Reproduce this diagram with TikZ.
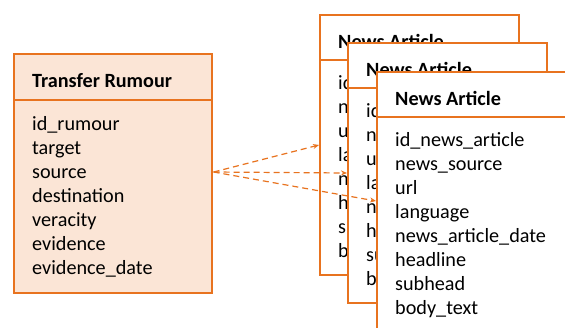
\documentclass[tikz,border=0pt]{standalone}
\usepackage{fontspec}
\setmainfont{Carlito}
\usetikzlibrary{calc,arrows.meta}
\definecolor{orng}{HTML}{E8731F}
\definecolor{pale}{HTML}{FBE5D6}
\tikzset{
  entity/.style={draw=orng, line width=1.6pt, rectangle, inner sep=0pt, anchor=north west},
  divider/.style={draw=orng, line width=1.6pt},
  etitle/.style={font=\fontsize{20.2}{24}\selectfont\bfseries, inner sep=0pt, anchor=base west},
  efield/.style={font=\fontsize{20.2}{24}\selectfont, inner sep=0pt, anchor=base west},
  link/.style={draw=orng, line width=1.2pt, dash pattern=on 6pt off 4pt, -{Stealth[length=6pt,width=5pt]}}
}
\begin{document}
\begin{tikzpicture}[x=1pt,y=-1pt]
\useasboundingbox (0,0) rectangle (565,327);
\clip (0,0) rectangle (565,327);
\fill[white] (0,0) rectangle (565,327);

% Transfer Rumour
\node[entity, fill=pale, minimum width=198pt, minimum height=239pt] (rum) at (13,53) {};
\draw[divider] ($(rum.north west)+(0,47)$) -- ($(rum.north east)+(0,47)$);
\node[etitle] (rumt) at ($(rum.north west)+(19,34)$) {Transfer Rumour};
\foreach \t [count=\i] in {id\_rumour,target,source,destination,veracity,evidence,evidence\_date}
  \node[efield] (rf\i) at ($(rum.north west)+(19,{77+(\i-1)*24})$) {\t};

% News Article boxes
\foreach \k/\x/\y in {1/319/14, 2/347/42, 3/376/71} {
  \node[entity, fill=white, minimum width=199pt, minimum height=260pt] (na\k) at (\x,\y) {};
  \draw[divider] ($(na\k.north west)+(0,46)$) -- ($(na\k.north east)+(0,46)$);
  \node[etitle] (na\k t) at ($(na\k.north west)+(19,34)$) {News Article};
  \foreach \t [count=\i] in {id\_news\_article,news\_source,url,language,news\_article\_date,headline,subhead,body\_text}
    \node[efield] (na\k f\i) at ($(na\k.north west)+(19,{75+(\i-1)*24})$) {\t};
}

% links
\coordinate (src) at ($(rum.north east)+(1,119)$);
\coordinate (d1) at ($(na1.north west)+(0,131)$);
\coordinate (d2) at ($(na2.north west)+(0,131)$);
\coordinate (d3) at ($(na3.north west)+(0,130)$);
\draw[link] (src) -- (d1);
\draw[link] (src) -- (d2);
\draw[link] (src) -- (d3);
\end{tikzpicture}
\end{document}
